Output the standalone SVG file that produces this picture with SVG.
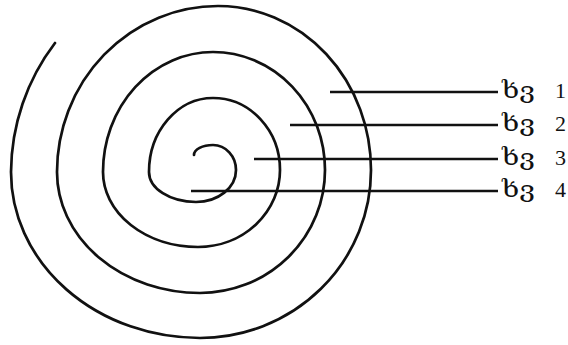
<svg xmlns="http://www.w3.org/2000/svg" width="568" height="345" viewBox="0 0 568 345">
<style>
.sp{fill:none;stroke:#111;stroke-width:2.7;stroke-linecap:round}
.ln{stroke:#111;stroke-width:2.7}
.lb{font-family:"Liberation Serif","DejaVu Serif",serif;font-size:22px;fill:#111}
.ka{font-family:"DejaVu Serif",serif;font-size:23px}
</style>
<rect width="568" height="345" fill="#fff"/>
<g id="spiral">
<path class="sp" d="M194,155 A19,10 0 0 1 213,145 A23,25 0 0 1 236,170 A40,32 0 0 1 196,202 A47,30 0 0 1 149,172 A64,74 0 0 1 213,98 A67,72 0 0 1 280,170 A82,77 0 0 1 198,247 A95,75 0 0 1 103,172 A110,120 0 0 1 213,52 A112,118 0 0 1 325,170 A125,123 0 0 1 200,293 A143,121 0 0 1 57,172 A161,166 0 0 1 218,6 A153,164 0 0 1 371,170 A171,168 0 0 1 200,338 A189,166 0 0 1 11,172 A207,212 0 0 1 55,43"/>
</g>
<g id="connectors">
<line class="ln" x1="330" y1="92" x2="498" y2="92"/>
<line class="ln" x1="290" y1="125" x2="498" y2="125"/>
<line class="ln" x1="254" y1="159" x2="498" y2="159"/>
<line class="ln" x1="191" y1="191" x2="498" y2="191"/>
</g>
<g id="label1"><text class="lb" y="98"><tspan class="ka" x="502" textLength="33" lengthAdjust="spacingAndGlyphs">ხვ</tspan><tspan x="555">1</tspan></text></g>
<g id="label2"><text class="lb" y="131"><tspan class="ka" x="502" textLength="33" lengthAdjust="spacingAndGlyphs">ხვ</tspan><tspan x="555">2</tspan></text></g>
<g id="label3"><text class="lb" y="165"><tspan class="ka" x="502" textLength="33" lengthAdjust="spacingAndGlyphs">ხვ</tspan><tspan x="555">3</tspan></text></g>
<g id="label4"><text class="lb" y="197"><tspan class="ka" x="502" textLength="33" lengthAdjust="spacingAndGlyphs">ხვ</tspan><tspan x="555">4</tspan></text></g>
</svg>
